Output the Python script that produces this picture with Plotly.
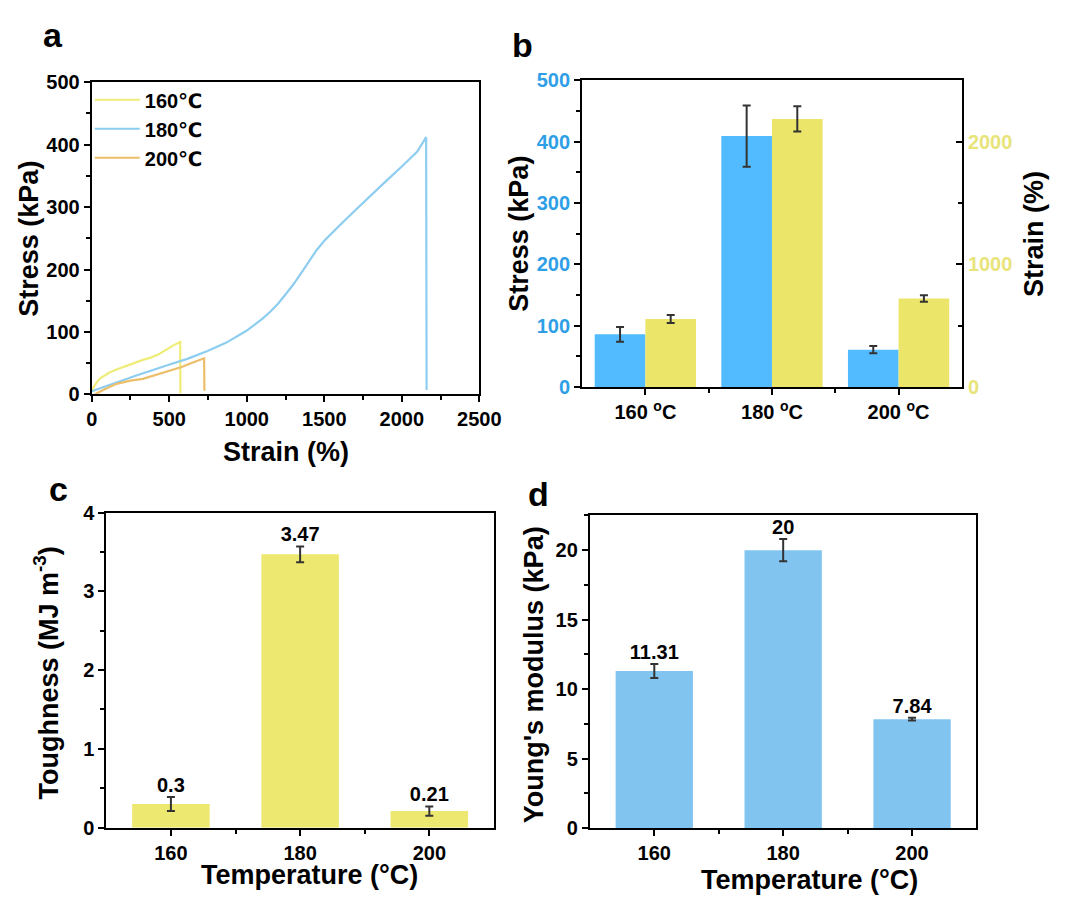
import numpy as np
import plotly.graph_objects as go

W, H = 1073, 905

# ---------------- data ----------------
# panel a: stress-strain curves (strain %, stress kPa)
strain_160 = [0, 20, 50, 75, 115, 160, 200, 260, 325, 380, 430, 480, 530, 571, 572]
stress_160 = [5, 15, 25, 29, 35, 40, 44, 49, 55, 59, 64, 72, 79, 84, 2]
strain_180 = [0, 136, 283, 502, 617, 743, 869, 998, 1050, 1100, 1150, 1200, 1250, 1300,
              1350, 1400, 1450, 1500, 1550, 1600, 1700, 1800, 1900, 2000, 2100, 2157, 2160]
stress_180 = [5, 17, 30, 48, 57, 69, 83, 102, 111, 121, 132, 145, 160, 176,
              194, 213, 231, 246, 259, 271, 295, 319, 342, 365, 389, 412, 7]
strain_200 = [20, 80, 160, 250, 330, 420, 500, 580, 640, 700, 725, 727]
stress_200 = [0, 8, 17, 22, 25, 32, 38, 44, 50, 56, 58, 6]
curve_names = ["160℃", "180℃", "200℃"]

# panel b
temps_b = ["160 <sup>o</sup>C", "180 <sup>o</sup>C", "200 <sup>o</sup>C"]
stress_b = [86, 409, 61]
stress_b_err = [12, 50, 6]
strain_b = [555, 2185, 722]
strain_b_err = [32, 103, 27]

# panel c
temps = ["160", "180", "200"]
toughness = [0.3, 3.47, 0.21]
toughness_err = [0.09, 0.1, 0.06]
toughness_lbl = ["0.3", "3.47", "0.21"]

# panel d
modulus = [11.31, 20, 7.84]
modulus_err = [0.5, 0.8, 0.1]
modulus_lbl = ["11.31", "20", "7.84"]

# ---------------- helpers ----------------
FONT = "Liberation Sans, Arial, DejaVu Sans"
def px(x): return x / W
def py(y): return 1 - y / H

fig = go.Figure()

C160, C180, C200 = "#F0EC78", "#8DCDF0", "#EDBE6A"
for sx, sy, c, n in [(strain_160, stress_160, C160, curve_names[0]),
                     (strain_180, stress_180, C180, curve_names[1]),
                     (strain_200, stress_200, C200, curve_names[2])]:
    fig.add_trace(go.Scatter(x=sx, y=sy, mode="lines", name=n,
                             line=dict(color=c, width=2.2),
                             xaxis="x", yaxis="y", showlegend=True))

pos = np.arange(len(temps))
err_style = dict(type="data", color="#333333", thickness=2, width=4)

# panel b
fig.add_trace(go.Bar(x=pos, y=stress_b, width=0.4, offset=-0.4,
                     marker=dict(color="#52BBFF", line=dict(width=0)),
                     error_y=dict(array=stress_b_err, **err_style),
                     xaxis="x2", yaxis="y2", showlegend=False))
fig.add_trace(go.Bar(x=pos, y=strain_b, width=0.4, offset=0.0,
                     marker=dict(color="#EBE56A", line=dict(width=0)),
                     error_y=dict(array=strain_b_err, **err_style),
                     xaxis="x2", yaxis="y3", showlegend=False))

# panel c
fig.add_trace(go.Bar(x=pos, y=toughness, width=0.6,
                     marker=dict(color="#EDE870", line=dict(width=0)),
                     error_y=dict(array=toughness_err, **err_style),
                     xaxis="x3", yaxis="y4", showlegend=False))
fig.add_trace(go.Scatter(x=pos, y=np.array(toughness) + np.array(toughness_err),
                         mode="text", text=toughness_lbl, textposition="top center",
                         textfont=dict(size=20, family=FONT, weight="bold", color="black"),
                         xaxis="x3", yaxis="y4", showlegend=False))

# panel d
fig.add_trace(go.Bar(x=pos, y=modulus, width=0.6,
                     marker=dict(color="#82C4F0", line=dict(width=0)),
                     error_y=dict(array=modulus_err, **err_style),
                     xaxis="x4", yaxis="y5", showlegend=False))
fig.add_trace(go.Scatter(x=pos, y=np.array(modulus) + np.array(modulus_err),
                         mode="text", text=modulus_lbl, textposition="top center",
                         textfont=dict(size=20, family=FONT, weight="bold", color="black"),
                         xaxis="x4", yaxis="y5", showlegend=False))

tf = dict(family=FONT, size=20, color="black", weight="bold")
def ax(**kw):
    d = dict(showline=True, linecolor="black", linewidth=2, mirror=True,
             ticks="outside", ticklen=6, tickwidth=2, tickcolor="black",
             showgrid=False, zeroline=False, tickfont=tf,
             minor=dict(ticks="outside", ticklen=4, tickwidth=2, tickcolor="black", showgrid=False))
    for k, v in kw.items():
        if k == "minor":
            d["minor"].update(v)
        else:
            d[k] = v
    return d

fig.update_layout(
    width=W, height=H, margin=dict(l=0, r=0, t=0, b=0),
    paper_bgcolor="white", plot_bgcolor="white",
    font=dict(family=FONT, size=20, color="black", weight="bold"),
    barmode="overlay",
    xaxis=ax(domain=[px(88), px(486)], range=[0, 2500], dtick=500, anchor="y",
             minor=dict(dtick=250)),
    yaxis=ax(domain=[py(393), py(73)], range=[0, 500], dtick=100, anchor="x",
             minor=dict(dtick=50)),
    xaxis2=ax(domain=[px(591.5), px(981.5)], range=[-0.5, 2.5], tickmode="array",
              tickvals=list(pos), ticktext=temps_b, anchor="y2",
              minor=dict(tickmode="array", tickvals=list(pos[:-1] + 0.5))),
    yaxis2=ax(domain=[py(385.5), py(71)], range=[0, 500], dtick=100, anchor="x2",
              mirror=False, tickfont=dict(tf, color="#2E9FE6"),
              minor=dict(dtick=50)),
    yaxis3=ax(domain=[py(385.5), py(71)], range=[0, 2500], dtick=1000, anchor="x2",
              overlaying="y2", side="right", mirror=False, ticks="inside",
              tickfont=dict(tf, color="#E8E47A"),
              minor=dict(dtick=500, ticks="inside")),
    xaxis3=ax(domain=[px(103), px(501)], range=[-0.5, 2.5], tickmode="array",
              tickvals=list(pos), ticktext=temps, anchor="y4",
              minor=dict(tickmode="array", tickvals=list(pos[:-1] + 0.5))),
    yaxis4=ax(domain=[py(837), py(514)], range=[0, 4], dtick=1, anchor="x3",
              minor=dict(dtick=0.5)),
    xaxis4=ax(domain=[px(599.5), px(996.5)], range=[-0.5, 2.5], tickmode="array",
              tickvals=list(pos), ticktext=temps, anchor="y5",
              minor=dict(tickmode="array", tickvals=list(pos[:-1] + 0.5))),
    yaxis5=ax(domain=[py(837.5), py(517)], range=[0, 22.5], dtick=5, anchor="x4",
              minor=dict(dtick=2.5)),
    legend=dict(x=px(86), y=py(71), xanchor="left", yanchor="top",
                bgcolor="rgba(0,0,0,0)", borderwidth=0,
                font=dict(family=FONT, size=20, color="black", weight="bold"),
                tracegroupgap=0, itemwidth=45),
)

def ann(text, x, y, size=27, angle=0, color="black"):
    fig.add_annotation(text=text, x=px(x), y=py(y), xref="paper", yref="paper",
                       xanchor="center", yanchor="middle", showarrow=False,
                       textangle=angle,
                       font=dict(family=FONT, size=size, color=color, weight="bold"))

# panel letters
ann("a", 48, 25, size=34)
ann("b", 530, 35, size=34)
ann("c", 54, 490, size=34)
ann("d", 547, 495, size=34)

# axis titles
ann("Stress (kPa)", 24, 233, angle=-90)
ann("Strain (%)", 287, 452)
ann("Stress (kPa)", 527, 228, angle=-90)
ann("Strain (%)", 1056, 228, angle=-90)
ann("Toughness (MJ m<sup>-3</sup>)", 41, 678, angle=-90)
ann("Temperature (°C)", 312, 886)
ann("Young's modulus (kPa)", 543, 680, angle=-90)
ann("Temperature (°C)", 825, 891)

fig.write_html("out.html")
